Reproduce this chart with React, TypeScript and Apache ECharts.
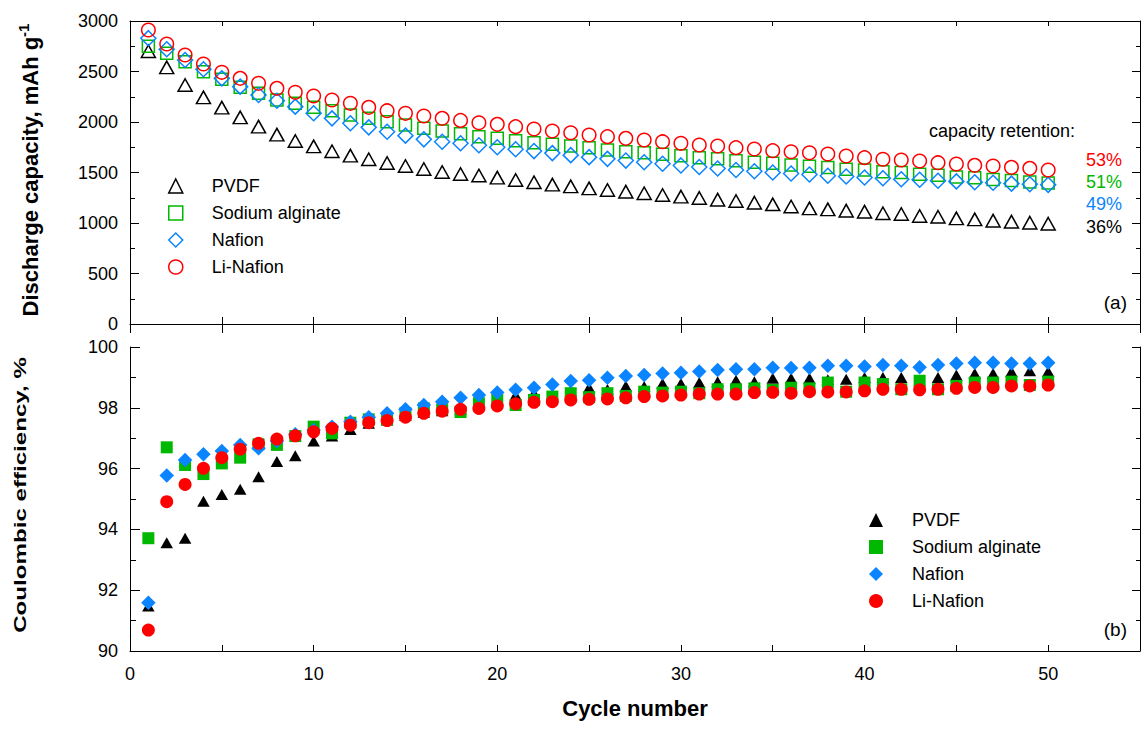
import React, { useEffect, useRef } from 'react';
import * as echarts from 'echarts';

const FONT = "'Liberation Sans', Arial, Helvetica, sans-serif";

const cycles = [1, 2, 3, 4, 5, 6, 7, 8, 9, 10, 11, 12, 13, 14, 15, 16, 17, 18, 19, 20, 21, 22, 23, 24, 25, 26, 27, 28, 29, 30, 31, 32, 33, 34, 35, 36, 37, 38, 39, 40, 41, 42, 43, 44, 45, 46, 47, 48, 49, 50];

// Discharge capacity, mAh g-1
const capPVDF = [2700, 2541, 2366, 2244, 2142, 2046, 1954, 1875, 1812, 1759, 1710, 1667, 1631, 1594, 1564, 1535, 1505, 1485, 1470, 1449, 1426, 1403, 1380, 1363, 1343, 1327, 1310, 1294, 1277, 1261, 1248, 1231, 1218, 1201, 1185, 1163, 1145, 1135, 1122, 1112, 1096, 1089, 1069, 1062, 1046, 1036, 1023, 1013, 1003, 993];
const capAlginate = [2750, 2680, 2597, 2498, 2423, 2343, 2284, 2218, 2185, 2145, 2112, 2069, 2036, 2003, 1970, 1937, 1911, 1883, 1855, 1838, 1815, 1795, 1779, 1762, 1746, 1723, 1706, 1696, 1680, 1667, 1647, 1637, 1617, 1601, 1591, 1574, 1562, 1550, 1533, 1524, 1508, 1499, 1482, 1472, 1456, 1448, 1431, 1422, 1405, 1395];
const capNafion = [2830, 2720, 2614, 2522, 2432, 2350, 2267, 2211, 2152, 2086, 2036, 1987, 1947, 1904, 1865, 1828, 1805, 1790, 1770, 1750, 1730, 1712, 1692, 1672, 1652, 1635, 1618, 1602, 1586, 1570, 1555, 1540, 1525, 1512, 1500, 1490, 1480, 1468, 1461, 1450, 1443, 1433, 1428, 1418, 1412, 1404, 1398, 1390, 1384, 1378];
const capLiNafion = [2911, 2772, 2663, 2574, 2492, 2432, 2383, 2333, 2294, 2257, 2218, 2185, 2145, 2112, 2086, 2059, 2036, 2016, 1993, 1977, 1954, 1931, 1911, 1894, 1871, 1855, 1838, 1822, 1805, 1789, 1772, 1762, 1746, 1733, 1716, 1705, 1696, 1683, 1663, 1647, 1631, 1624, 1614, 1597, 1584, 1571, 1564, 1551, 1541, 1525];

// Coulombic efficiency, %
const cePVDF = [91.48, 93.56, 93.71, 94.93, 95.15, 95.32, 95.73, 96.23, 96.42, 96.91, 97.07, 97.29, 97.49, 97.6, 97.75, 97.85, 97.9, 97.95, 98.1, 98.25, 98.42, 98.48, 98.45, 98.55, 98.67, 98.6, 98.72, 98.7, 98.8, 98.8, 98.83, 98.86, 98.91, 98.86, 98.97, 98.97, 98.97, 98.92, 98.94, 99.0, 99.0, 99.0, 98.88, 99.0, 99.08, 99.13, 99.13, 99.19, 99.22, 99.19];
const ceAlginate = [93.71, 96.7, 96.12, 95.82, 96.17, 96.36, 96.8, 96.78, 97.07, 97.38, 97.16, 97.51, 97.62, 97.62, 97.82, 97.98, 97.95, 97.86, 98.15, 98.26, 98.09, 98.26, 98.37, 98.48, 98.35, 98.48, 98.39, 98.53, 98.5, 98.53, 98.48, 98.61, 98.61, 98.64, 98.59, 98.66, 98.64, 98.83, 98.53, 98.83, 98.78, 98.61, 98.89, 98.61, 98.72, 98.83, 98.83, 98.86, 98.75, 98.86];
const ceNafion = [91.59, 95.77, 96.28, 96.47, 96.58, 96.78, 96.67, 96.91, 97.13, 97.27, 97.38, 97.54, 97.69, 97.82, 97.95, 98.09, 98.2, 98.33, 98.42, 98.5, 98.59, 98.66, 98.77, 98.88, 98.91, 98.99, 99.05, 99.08, 99.13, 99.15, 99.19, 99.24, 99.27, 99.27, 99.32, 99.31, 99.32, 99.38, 99.38, 99.36, 99.41, 99.38, 99.33, 99.41, 99.46, 99.48, 99.48, 99.46, 99.46, 99.48];
const ceLiNafion = [90.69, 94.91, 95.48, 96.01, 96.36, 96.64, 96.83, 96.97, 97.08, 97.21, 97.32, 97.43, 97.51, 97.58, 97.69, 97.82, 97.89, 97.95, 97.98, 98.06, 98.13, 98.18, 98.2, 98.26, 98.28, 98.29, 98.33, 98.37, 98.39, 98.42, 98.45, 98.45, 98.45, 98.5, 98.51, 98.48, 98.53, 98.52, 98.52, 98.56, 98.61, 98.61, 98.59, 98.61, 98.64, 98.67, 98.67, 98.72, 98.72, 98.75];

const names = ['PVDF', 'Sodium alginate', 'Nafion', 'Li-Nafion'];
const colors = ['#000000', '#00B800', '#0A84FF', '#FF0000'];
const retention = ['36%', '51%', '49%', '53%'];

const xTicks = [0, 10, 20, 30, 40, 50];

const pair = (vals: number[]) => cycles.map((c, i) => [c, vals[i]]);

const topSymbols = [
  { symbol: 'triangle', size: [14, 12.5] },
  { symbol: 'rect', size: 12 },
  { symbol: 'diamond', size: [15, 15] },
  { symbol: 'circle', size: 13.5 },
];
const botSymbols = [
  { symbol: 'triangle', size: [12.5, 11] },
  { symbol: 'rect', size: 12 },
  { symbol: 'diamond', size: [14.5, 14.5] },
  { symbol: 'circle', size: 13 },
];

const tickLine = { color: '#000', width: 1 };

function buildOption() {
  const capData = [capPVDF, capAlginate, capNafion, capLiNafion];
  const ceData = [cePVDF, ceAlginate, ceNafion, ceLiNafion];

  const series: any[] = [];
  names.forEach((n, i) => {
    series.push({
      type: 'scatter',
      name: n,
      xAxisIndex: 0,
      yAxisIndex: 0,
      data: pair(capData[i]),
      symbol: topSymbols[i].symbol,
      symbolSize: topSymbols[i].size,
      itemStyle: { color: 'rgba(0,0,0,0)', borderColor: colors[i], borderWidth: 1.5, opacity: 1 },
      z: 2 + i,
      silent: true,
    });
  });
  names.forEach((n, i) => {
    series.push({
      type: 'scatter',
      name: n,
      xAxisIndex: 3,
      yAxisIndex: 2,
      data: pair(ceData[i]),
      symbol: botSymbols[i].symbol,
      symbolSize: botSymbols[i].size,
      itemStyle: { color: colors[i], opacity: 1 },
      z: 2 + i,
      silent: true,
    });
  });

  const baseX = {
    type: 'value',
    min: 0,
    max: 55,
    interval: 5,
    splitLine: { show: false },
    axisLabel: { show: false },
  };

  const label18 = { fontSize: 18, fontFamily: FONT, color: '#000' };
  const plain = (v: number) => String(v);

  const legendCommon = {
    orient: 'vertical',
    itemWidth: 14,
    itemHeight: 14,
    itemGap: 9,
    selectedMode: false,
    textStyle: { ...label18, lineHeight: 18, padding: [0, 0, 0, 24] },
  };

  return {
    animation: false,
    backgroundColor: '#ffffff',
    grid: [
      { left: 130, top: 21, width: 1010, height: 303, containLabel: false },
      { left: 130, top: 347, width: 1010, height: 304, containLabel: false },
    ],
    xAxis: [
      { ...baseX, gridIndex: 0, position: 'bottom', axisLine: { show: true, onZero: false, lineStyle: tickLine }, axisTick: { show: true, inside: true, length: 7, lineStyle: tickLine } },
      { ...baseX, gridIndex: 0, position: 'bottom', axisLine: { show: false, onZero: false }, axisTick: { show: true, inside: false, length: 9, lineStyle: tickLine } },
      { ...baseX, gridIndex: 0, position: 'top', axisLine: { show: true, onZero: false, lineStyle: tickLine }, axisTick: { show: true, inside: true, length: 5, lineStyle: tickLine } },
      {
        ...baseX,
        gridIndex: 1,
        position: 'bottom',
        axisLine: { show: true, onZero: false, lineStyle: tickLine },
        axisTick: { show: true, inside: true, length: 6, lineStyle: tickLine },
        axisLabel: {
          show: true,
          ...label18,
          margin: 14,
          formatter: (v: number) => (xTicks.indexOf(v) >= 0 ? String(v) : ''),
        },
        name: 'Cycle number',
        nameLocation: 'middle',
        nameGap: 46,
        nameTextStyle: { fontSize: 22, fontWeight: 'bold', fontFamily: FONT, color: '#000' },
      },
    ],
    yAxis: [
      {
        type: 'value', gridIndex: 0, position: 'left', min: 0, max: 3000, interval: 500,
        splitLine: { show: false },
        axisLine: { show: true, onZero: false, lineStyle: tickLine },
        axisTick: { show: true, inside: true, length: 9, lineStyle: tickLine },
        minorTick: { show: true, splitNumber: 2, length: 5, lineStyle: tickLine },
        axisLabel: { show: true, ...label18, margin: 12, formatter: plain },
      },
      {
        type: 'value', gridIndex: 0, position: 'right', min: 0, max: 3000, interval: 500,
        splitLine: { show: false },
        axisLine: { show: true, onZero: false, lineStyle: tickLine },
        axisTick: { show: true, inside: true, length: 8, lineStyle: tickLine },
        minorTick: { show: true, splitNumber: 2, length: 4, lineStyle: tickLine },
        axisLabel: { show: false },
      },
      {
        type: 'value', gridIndex: 1, position: 'left', min: 90, max: 100, interval: 2,
        splitLine: { show: false },
        axisLine: { show: true, onZero: false, lineStyle: tickLine },
        axisTick: { show: true, inside: true, length: 10, lineStyle: tickLine },
        minorTick: { show: true, splitNumber: 2, length: 6, lineStyle: tickLine },
        axisLabel: { show: true, ...label18, margin: 12, formatter: plain },
      },
      {
        type: 'value', gridIndex: 1, position: 'right', min: 90, max: 100, interval: 2,
        splitLine: { show: false },
        axisLine: { show: true, onZero: false, lineStyle: tickLine },
        axisTick: { show: true, inside: true, length: 8, lineStyle: tickLine },
        minorTick: { show: true, splitNumber: 2, length: 4, lineStyle: tickLine },
        axisLabel: { show: false },
      },
    ],
    legend: [
      {
        ...legendCommon,
        left: 163,
        top: 172,
        data: names.map((n, i) => ({
          name: n,
          icon: topSymbols[i].symbol,
          itemStyle: { color: 'rgba(0,0,0,0)', borderColor: colors[i], borderWidth: 1.5 },
        })),
      },
      {
        ...legendCommon,
        left: 864,
        top: 506,
        data: names.map((n, i) => ({
          name: n,
          icon: botSymbols[i].symbol,
          itemStyle: { color: colors[i], borderWidth: 0 },
        })),
      },
    ],
    graphic: [
      {
        type: 'text', x: 30, y: 170, rotation: Math.PI / 2,
        style: {
          text: '{b|Discharge capacity, mAh g}{s|-1}',
          align: 'center', verticalAlign: 'middle',
          rich: {
            b: { fontSize: 22, fontWeight: 'bold', fontFamily: FONT, fill: '#000' },
            s: { fontSize: 15, fontWeight: 'bold', fontFamily: FONT, fill: '#000', padding: [0, 0, 13, 0] },
          },
        },
      },
      {
        type: 'text', x: 20, y: 495, rotation: Math.PI / 2, scaleX: 1.42, scaleY: 1,
        style: { text: 'Coulombic efficiency, %', align: 'center', verticalAlign: 'middle', fontSize: 17, fontWeight: 'bold', fontFamily: FONT, fill: '#000' },
      },
      { type: 'text', x: 1075, y: 131, style: { text: 'capacity retention:', align: 'right', verticalAlign: 'middle', ...label18, fill: '#000' } },
      { type: 'text', x: 1122, y: 160, style: { text: retention[3], align: 'right', verticalAlign: 'middle', ...label18, fill: colors[3] } },
      { type: 'text', x: 1122, y: 182, style: { text: retention[1], align: 'right', verticalAlign: 'middle', ...label18, fill: colors[1] } },
      { type: 'text', x: 1122, y: 204, style: { text: retention[2], align: 'right', verticalAlign: 'middle', ...label18, fill: colors[2] } },
      { type: 'text', x: 1122, y: 227, style: { text: retention[0], align: 'right', verticalAlign: 'middle', ...label18, fill: colors[0] } },
      { type: 'text', x: 1127, y: 302, style: { text: '(a)', align: 'right', verticalAlign: 'middle', ...label18, fontSize: 19, fill: '#000' } },
      { type: 'text', x: 1127, y: 629, style: { text: '(b)', align: 'right', verticalAlign: 'middle', ...label18, fontSize: 19, fill: '#000' } },
    ],
    series,
  };
}

export default function App() {
  const ref = useRef<HTMLDivElement>(null);
  useEffect(() => {
    if (!ref.current) return;
    const chart = echarts.init(ref.current, null, { renderer: 'svg' });
    chart.setOption(buildOption() as any);
    return () => chart.dispose();
  }, []);
  return (
    <div
      ref={ref}
      style={{ position: 'fixed', left: 0, top: 0, width: 1144, height: 742, background: '#fff' }}
    />
  );
}
